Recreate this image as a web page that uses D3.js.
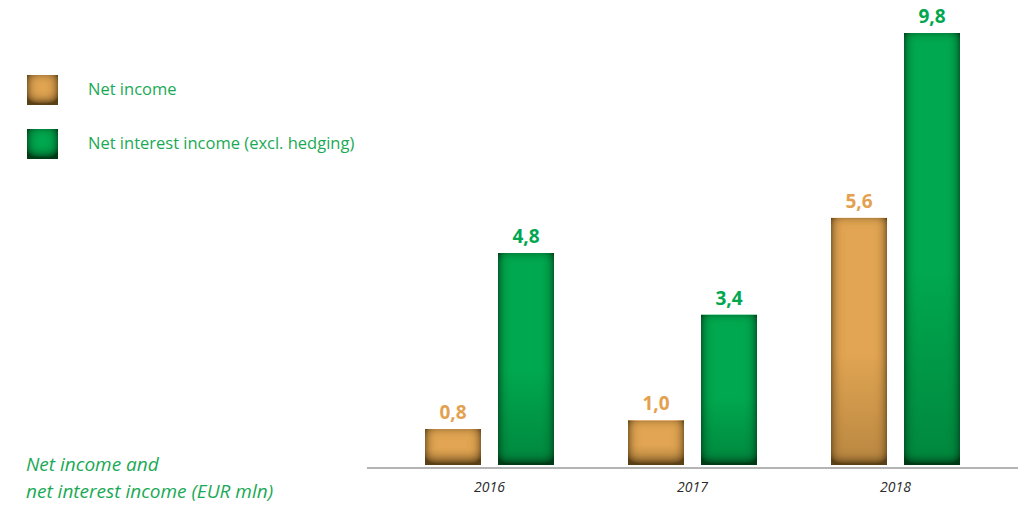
<!DOCTYPE html>
<html>
<head>
<meta charset="utf-8">
<script src="https://cdn.jsdelivr.net/npm/d3@7"></script>
<style>
  body { margin: 0; background: #fff; }
  svg { display: block; font-family: "Open Sans", "Noto Sans", sans-serif; }
</style>
</head>
<body>
<svg id="chart" width="1018" height="509"></svg>
<script>
// chart data
const years = ['2016', '2017', '2018'];
const seriesNames = ['Net income', 'Net interest income (excl. hedging)'];
const netIncome = [0.8, 1.0, 5.6];
const netInterestIncome = [4.8, 3.4, 9.8];
const captionLines = ['Net income and', 'net interest income (EUR mln)'];

const colors = ['#e1a552', '#00a84f'];
const edgeColors = ['#5a3f16', '#003a17'];
const labelColors = ['#e3a150', '#00a650'];

let svg = d3.select('#chart');
let defs = svg.append('defs');

// inner shadow filter (a bit heavier at the bottom) for each series
colors.forEach(function(c, i){
    let f = defs.append('filter').attr('id', 'inner' + i)
        .attr('x', '-20%').attr('y', '-20%').attr('width', '140%').attr('height', '140%');
    f.append('feGaussianBlur').attr('in', 'SourceAlpha').attr('stdDeviation', 6).attr('result', 'blur');
    f.append('feOffset').attr('in', 'blur').attr('dy', -3).attr('result', 'blurOff');
    f.append('feComposite').attr('in', 'SourceAlpha').attr('in2', 'blurOff')
        .attr('operator', 'arithmetic').attr('k2', 1.6).attr('k3', -1.6).attr('result', 'edge');
    f.append('feFlood').attr('flood-color', edgeColors[i]).attr('flood-opacity', 1);
    f.append('feComposite').attr('in2', 'edge').attr('operator', 'in').attr('result', 'shadow');
    let m = f.append('feMerge');
    m.append('feMergeNode').attr('in', 'SourceGraphic');
    m.append('feMergeNode').attr('in', 'shadow');

    let vg = defs.append('linearGradient').attr('id', 'ver' + i)
        .attr('x1', 0).attr('x2', 0).attr('y1', 0).attr('y2', 1);
    vg.append('stop').attr('offset', '0%').attr('stop-color', edgeColors[i]).attr('stop-opacity', 0);
    vg.append('stop').attr('offset', '55%').attr('stop-color', edgeColors[i]).attr('stop-opacity', 0);
    vg.append('stop').attr('offset', '100%').attr('stop-color', edgeColors[i]).attr('stop-opacity', 0.3);
});

// scales
let baseY = 465;
let xGroup = d3.scaleBand().domain(years).range([388, 997]).padding(0);
let xSeries = d3.scaleBand().domain([0, 1]).range([37, 166]).paddingInner(0.233);
let yScale = d3.scaleLinear().domain([-0.44, 9.8]).range([baseY + 18.6, 33]);

let data = [];
years.forEach(function(y, i){
    data.push({year: y, s: 0, value: netIncome[i]});
    data.push({year: y, s: 1, value: netInterestIncome[i]});
});

let barCanvas = svg.append('g').attr('id', 'barCanvas');

let bars = barCanvas.selectAll('g.bar')
    .data(data)
    .enter()
    .append('g')
    .attr('class', 'bar')
    .attr('transform', function(d){
        return 'translate(' + (xGroup(d.year) + xSeries(d.s)) + ',' + yScale(d.value) + ')';
    });

bars.append('rect')
    .attr('width', xSeries.bandwidth())
    .attr('height', function(d){ return baseY - yScale(d.value); })
    .attr('fill', function(d){ return colors[d.s]; })
    .attr('filter', function(d){ return 'url(#inner' + d.s + ')'; });
bars.append('rect')
    .attr('width', xSeries.bandwidth())
    .attr('height', function(d){ return baseY - yScale(d.value); })
    .attr('fill', function(d){ return 'url(#ver' + d.s + ')'; });

// value labels
barCanvas.selectAll('text.val')
    .data(data)
    .enter()
    .append('text')
    .attr('class', 'val')
    .attr('x', function(d){ return xGroup(d.year) + xSeries(d.s) + xSeries.bandwidth() / 2; })
    .attr('y', function(d){ return yScale(d.value) - 10; })
    .attr('text-anchor', 'middle')
    .style('font-size', '19px')
    .style('font-weight', 'bold')
    .attr('fill', function(d){ return labelColors[d.s]; })
    .text(function(d){ return d.value.toFixed(1).replace('.', ','); });

// baseline axis
let xAxis = svg.append('g')
    .attr('transform', 'translate(0,' + (baseY + 3) + ')')
    .call(d3.axisBottom(xGroup).tickSize(0).tickPadding(14));
xAxis.select('.domain').remove();
xAxis.append('line')
    .attr('x1', 367).attr('x2', 1018)
    .attr('stroke', '#b4b4b4').attr('stroke-width', 2);
xAxis.selectAll('.tick text')
    .style('font-size', '14px')
    .style('font-style', 'italic')
    .style('font-family', '"Open Sans", "Noto Sans", sans-serif')
    .attr('fill', '#2b2b2b');

// legend
let legend = svg.append('g').attr('id', 'legend');
seriesNames.forEach(function(name, i){
    let g = legend.append('g').attr('transform', 'translate(27,' + (75 + i * 54) + ')');
    g.append('rect').attr('width', 31).attr('height', 30)
        .attr('fill', colors[i])
        .attr('filter', 'url(#inner' + i + ')');
    g.append('text')
        .attr('x', 61).attr('y', 20)
        .style('font-size', '16.5px')
        .attr('fill', '#1aa955')
        .text(name);
});

// caption
svg.append('text')
    .attr('x', 26).attr('y', 471)
    .style('font-size', '19px')
    .style('font-style', 'italic')
    .attr('fill', '#1aa955')
    .selectAll('tspan')
    .data(captionLines)
    .enter()
    .append('tspan')
    .attr('x', 26)
    .attr('dy', function(d, i){ return i == 0 ? 0 : 27; })
    .text(function(d){ return d; });
</script>
</body>
</html>
